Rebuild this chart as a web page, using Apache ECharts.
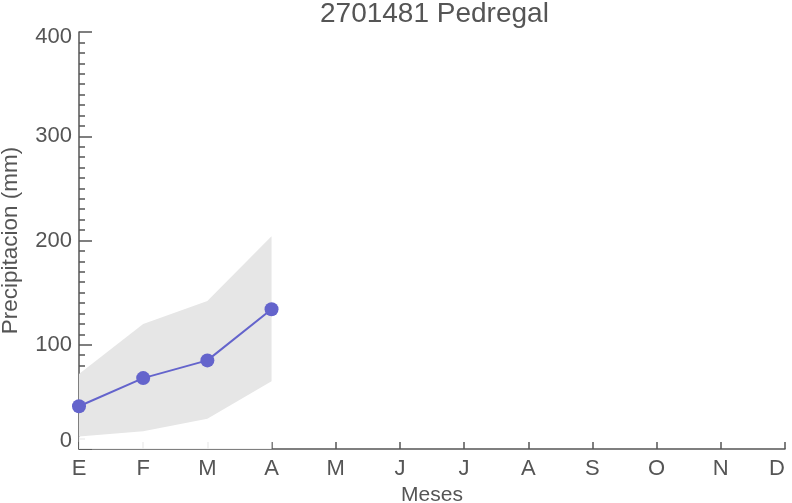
<!DOCTYPE html>
<html>
<head>
<meta charset="utf-8">
<script src="https://cdn.jsdelivr.net/npm/echarts@6/dist/echarts.min.js"></script>
<style>html,body{margin:0;padding:0;background:#fff;}#c{width:792px;height:503px;}</style>
</head>
<body>
<div id="c"></div>
<script>
var titleText = '2701481 Pedregal';
var months = ['E','F','M','A','M','J','J','A','S','O','N','D'];
var meanVals = [41, 68, 85, 134];
var lowerVals = [12, 17, 29, 65];
var upperVals = [72, 120, 142, 204];
var yTicks = [0, 100, 200, 300, 400];

var FONT = '"Liberation Sans", Arial, Helvetica, sans-serif';
var TXT = '#555555';
var AX = '#555555';

var bandDiff = upperVals.map(function (u, i) { return u - lowerVals[i]; });

var chart = echarts.init(document.getElementById('c'), null, {renderer: 'canvas'});
chart.setOption({
  animation: false,
  backgroundColor: '#ffffff',
  title: {
    text: titleText,
    left: 315,
    top: -5,
    textStyle: {fontFamily: FONT, fontSize: 28, fontWeight: 'normal', color: TXT}
  },
  grid: {left: 79, right: 7, top: 32, bottom: 54, containLabel: false, outerBoundsMode: 'none'},
  xAxis: {
    type: 'category',
    data: months,
    boundaryGap: false,
    name: 'Meses',
    nameLocation: 'middle',
    nameGap: 35,
    nameTextStyle: {fontFamily: FONT, fontSize: 21, color: TXT},
    axisLine: {show: true, lineStyle: {color: AX, width: 1.5}},
    axisTick: {show: true, inside: true, length: 7, alignWithLabel: true, lineStyle: {color: AX, width: 1.5}},
    axisLabel: {fontFamily: FONT, fontSize: 22, color: TXT, margin: 9, interval: 0, alignMaxLabel: 'right'},
    splitLine: {show: false}
  },
  yAxis: {
    type: 'value',
    min: 0,
    max: 400,
    interval: 100,
    name: 'Precipitacion (mm)',
    nameLocation: 'middle',
    nameGap: 57,
    nameTextStyle: {fontFamily: FONT, fontSize: 22.5, color: TXT},
    axisLine: {show: true, lineStyle: {color: AX, width: 1.5}},
    axisTick: {show: true, inside: true, length: 13, lineStyle: {color: AX, width: 1.5}},
    minorTick: {show: true, splitNumber: 10, length: 6, lineStyle: {color: AX, width: 1.5}},
    axisLabel: {
      fontFamily: FONT, fontSize: 22, color: TXT, margin: 7,
      formatter: function (v) {
        if (v === yTicks[yTicks.length - 1]) return '{top|' + v + '}';
        if (v === yTicks[0]) return '{bot|' + v + '}';
        return String(v);
      },
      rich: {
        top: {fontFamily: FONT, fontSize: 22, color: TXT, padding: [10, 0, 0, 0]},
        bot: {fontFamily: FONT, fontSize: 22, color: TXT, padding: [0, 0, 16, 0]}
      }
    },
    splitLine: {show: false}
  },
  series: [
    {
      name: 'lower',
      type: 'line',
      stack: 'band',
      data: lowerVals,
      symbol: 'none',
      lineStyle: {width: 0, opacity: 0},
      areaStyle: {color: '#ffffff', opacity: 0.9},
      z: 3,
      silent: true
    },
    {
      name: 'band',
      type: 'line',
      stack: 'band',
      data: bandDiff,
      symbol: 'none',
      lineStyle: {width: 0, opacity: 0},
      areaStyle: {color: '#e6e6e6', opacity: 1},
      z: 3,
      silent: true
    },
    {
      name: 'mean',
      type: 'line',
      data: meanVals,
      symbol: 'circle',
      symbolSize: 14,
      itemStyle: {color: '#6464cc'},
      lineStyle: {color: '#6464cc', width: 2},
      z: 5
    }
  ]
});
</script>
</body>
</html>
